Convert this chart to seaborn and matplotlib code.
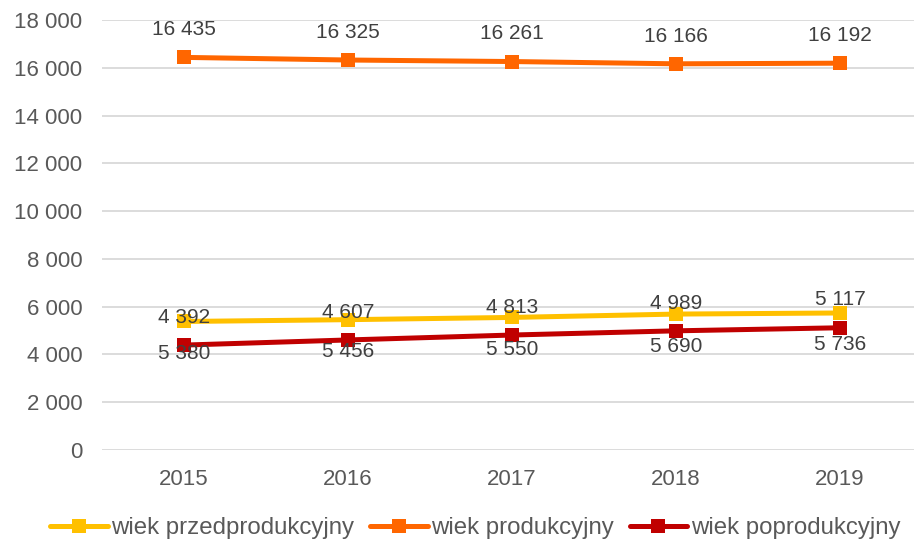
import pandas as pd
import matplotlib.pyplot as plt
import seaborn as sns

# data
years = ['2015', '2016', '2017', '2018', '2019']
przed = [5380, 5456, 5550, 5690, 5736]
prod = [16435, 16325, 16261, 16166, 16192]
popr = [4392, 4607, 4813, 4989, 5117]
series_names = ['wiek przedprodukcyjny', 'wiek produkcyjny', 'wiek poprodukcyjny']
colors = ['#FFC000', '#FF6600', '#C00000']

df = pd.DataFrame({
    'rok': years * 3,
    'wartosc': przed + prod + popr,
    'grupa': [series_names[0]] * 5 + [series_names[1]] * 5 + [series_names[2]] * 5,
})

sns.set_style('white')
plt.rcParams['font.family'] = ['Liberation Sans', 'DejaVu Sans']

fig = plt.figure(figsize=(9.14, 5.39), dpi=100)
# plot area runs past the right edge, like in the source
ax = fig.add_axes([0.1116, 0.1651, 0.8972, 0.7978])

sns.lineplot(data=df, x='rok', y='wartosc', hue='grupa', hue_order=series_names,
             palette=colors, marker='s', markersize=10, markeredgewidth=0,
             linewidth=3.6, dashes=False, ax=ax, legend=True)

def fmt(v):
    return f'{v:,}'.replace(',', ' ')

# data labels: produkcyjny & poprodukcyjny above, przedprodukcyjny below
for vals, dy in [(prod, 20), (popr, 20), (przed, -23)]:
    for i, v in enumerate(vals):
        ax.annotate(fmt(v), (i, v), xytext=(0, dy), textcoords='offset points',
                    ha='center', va='center', fontsize=15, color='#404040')

ax.set_ylim(0, 18000)
ax.set_xlim(-0.5, 4.5)
ax.set_yticks(range(0, 18001, 2000))
ax.set_yticklabels([fmt(v) for v in range(0, 18001, 2000)])
ax.yaxis.grid(True, color='#d9d9d9', linewidth=1.3)
ax.set_axisbelow(True)
for s in ax.spines.values():
    s.set_visible(False)
ax.tick_params(axis='both', length=0, labelsize=16, labelcolor='#595959')
ax.tick_params(axis='y', pad=14)
ax.tick_params(axis='x', pad=14)
ax.set_xlabel('')
ax.set_ylabel('')

handles, labels = ax.get_legend_handles_labels()
ax.get_legend().remove()
fig.legend(handles, labels, loc='center', bbox_to_anchor=(0.52, 1 - 528 / 539),
           ncol=3, frameon=False, fontsize=17.3, labelcolor='#595959',
           handlelength=2.4, handletextpad=0.15, columnspacing=0.65)

fig.savefig('out.png', dpi=100)
